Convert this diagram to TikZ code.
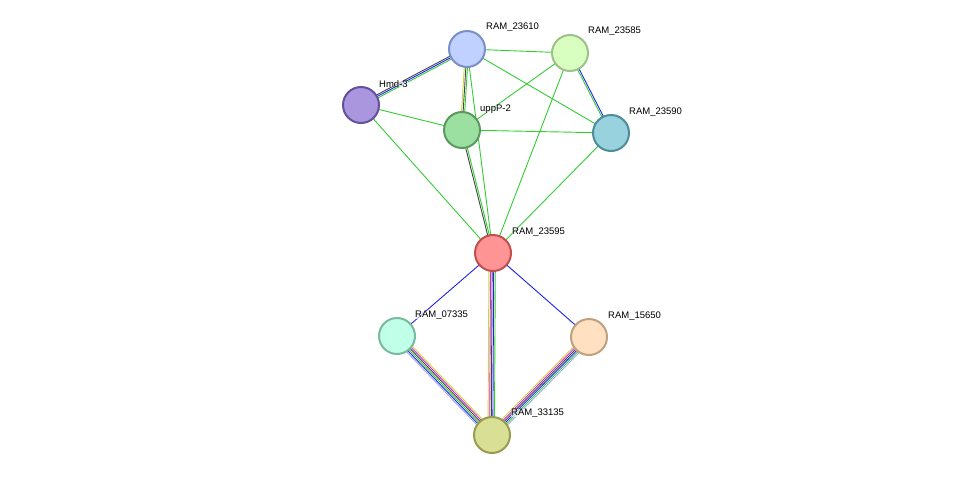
\documentclass[tikz,border=0pt]{standalone}
\usepackage{fontspec}
\setmainfont{Liberation Sans}
\usetikzlibrary{calc}
\definecolor{eg}{HTML}{33CC33}
\definecolor{eb}{HTML}{2222EE}
\definecolor{ek}{HTML}{444444}
\definecolor{ey}{HTML}{C8D83A}
\definecolor{em}{HTML}{DD22DD}
\definecolor{el}{HTML}{A0A8F0}
\newcommand\medge[3]{\foreach \c/\o in {#3} \draw[\c, line width=0.9pt] ($(#1)!\o pt!90:(#2)$) -- ($(#2)!\o pt!-90:(#1)$);}
\tikzset{prot/.style={circle, minimum size=36pt, inner sep=0pt, line width=2pt},
 lbl/.style={anchor=west, font=\fontsize{9.5pt}{10pt}\selectfont, inner sep=0pt, fill=white, fill opacity=0.6, text opacity=1}}
\begin{document}
\begin{tikzpicture}[x=1pt,y=-1pt]
\useasboundingbox (0,0) rectangle (976,480);
\coordinate (a) at (467,49);
\coordinate (b) at (570,53);
\coordinate (h) at (361,105);
\coordinate (u) at (462,130);
\coordinate (c) at (611,133);
\coordinate (r) at (493,253);
\coordinate (s) at (397,336);
\coordinate (f) at (589,337);
\coordinate (t) at (492,435);
\medge{a}{h}{eg/1.6,eb/0,ek/-1.6}
\medge{a}{u}{eg/1.6,ek/0,ey/-1.6}
\medge{a}{r}{eg/0}
\medge{a}{b}{eg/0}
\medge{a}{c}{eg/0}
\medge{b}{u}{eg/0}
\medge{b}{r}{eg/0}
\medge{b}{c}{eb/0.8,eg/-0.8}
\medge{h}{u}{eg/0}
\medge{h}{r}{eg/0}
\medge{u}{c}{eg/0}
\medge{u}{r}{eg/0.8,ek/-0.8}
\medge{c}{r}{eg/0}
\medge{r}{s}{eb/0}
\medge{r}{f}{eb/0}
\medge{r}{t}{ey/-4,em/-2.4,ek/-0.8,eb/0.8,eg/2.4}
\medge{s}{t}{ey/4,em/2.4,ek/0.8,eg/-0.8,eb/-2.4,el/-4}
\medge{f}{t}{ey/-4,em/-2.4,ek/-0.8,eb/0.8,eg/2.4,el/4}
\node[prot, fill={rgb,255:red,192;green,208;blue,255}, draw={rgb,255:red,122;green,143;blue,196}] (A) at (a) {};
\node[prot, fill={rgb,255:red,217;green,255;blue,192}, draw={rgb,255:red,158;green,192;blue,138}] (B) at (b) {};
\node[prot, fill={rgb,255:red,169;green,150;blue,222}, draw={rgb,255:red,99;green,81;blue,154}] (H) at (h) {};
\node[prot, fill={rgb,255:red,155;green,224;blue,160}, draw={rgb,255:red,90;green,154;blue,96}] (U) at (u) {};
\node[prot, fill={rgb,255:red,152;green,210;blue,222}, draw={rgb,255:red,79;green,140;blue,154}] (C) at (c) {};
\node[prot, fill={rgb,255:red,255;green,148;blue,148}, draw={rgb,255:red,192;green,80;blue,80}] (R) at (r) {};
\node[prot, fill={rgb,255:red,192;green,255;blue,232}, draw={rgb,255:red,122;green,184;blue,160}] (S) at (s) {};
\node[prot, fill={rgb,255:red,255;green,224;blue,192}, draw={rgb,255:red,192;green,160;blue,128}] (F) at (f) {};
\node[prot, fill={rgb,255:red,217;green,224;blue,150}, draw={rgb,255:red,152;green,156;blue,80}] (T) at (t) {};
\node[lbl] (lA) at ($(a)+(19,-22)$) {RAM\_23610};
\node[lbl] (lB) at ($(b)+(18,-22)$) {RAM\_23585};
\node[lbl] (lH) at ($(h)+(18,-21)$) {Hmd-3};
\node[lbl] (lU) at ($(u)+(18,-21)$) {uppP-2};
\node[lbl] (lC) at ($(c)+(18,-21)$) {RAM\_23590};
\node[lbl] (lR) at ($(r)+(19,-21)$) {RAM\_23595};
\node[lbl] (lS) at ($(s)+(18,-21)$) {RAM\_07335};
\node[lbl] (lF) at ($(f)+(19,-21)$) {RAM\_15650};
\node[lbl] (lT) at ($(t)+(19,-22)$) {RAM\_33135};
\end{tikzpicture}
\end{document}
